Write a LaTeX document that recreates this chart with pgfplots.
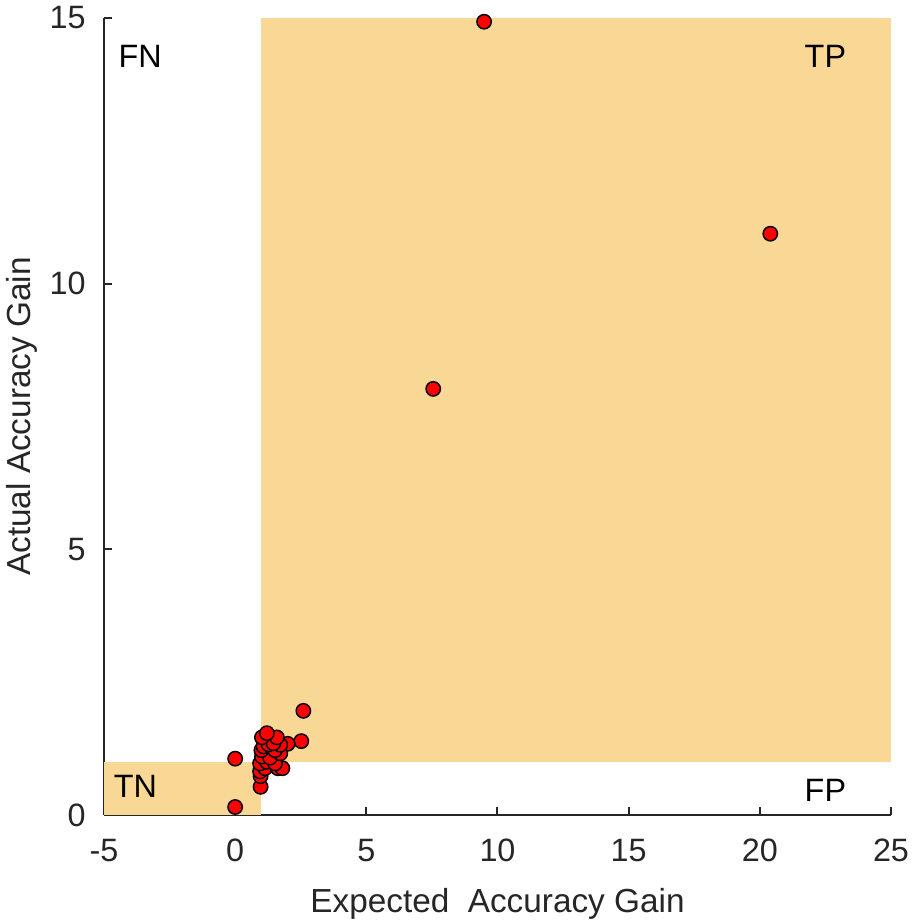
\documentclass[border=0pt]{standalone}
\usepackage{pgfplots}
\pgfplotsset{compat=1.18}
\usepackage{fontspec}
\setmainfont{Liberation Sans}
\definecolor{regionc}{RGB}{249,216,150}
\definecolor{axc}{RGB}{38,38,38}
\begin{document}
\begin{tikzpicture}[x=1pt,y=1pt]
\begin{axis}[
  scale only axis,
  width=236.1pt, height=239.1pt,
  xmin=-5, xmax=25, ymin=0, ymax=15,
  xtick={-5,0,5,10,15,20,25},
  ytick={0,5,10,15},
  axis x line=bottom, axis y line=left,
  axis line style={-, axc, line width=0.6pt},
  tick style={axc, line width=0.6pt},
  tick align=inside,
  major tick length=2.4pt,
  /pgf/number format/assume math mode=true,
  ticklabel style={font=\fontsize{9.7}{11}\selectfont, text=axc},
  xticklabel style={yshift=-3.6pt},
  yticklabel style={xshift=-2pt},
  xlabel={Expected\ \ Accuracy Gain},
  ylabel={Actual Accuracy Gain},
  label style={font=\fontsize{10}{12}\selectfont, text=axc},
  xlabel style={yshift=-1pt},
  ylabel style={yshift=-3.2pt},
  clip=false,
]
\addplot[fill=regionc, draw=none, forget plot] coordinates {(-5,0) (1,0) (1,1) (-5,1)} -- cycle;
\addplot[fill=regionc, draw=none, forget plot] coordinates {(1,1) (25,1) (25,15) (1,15)} -- cycle;
\addplot[only marks, mark=*, mark size=2.15pt, mark options={fill=red, draw=black, line width=0.45pt}]
 table {
x y
0 1.06
0 0.15
2.6 1.96
2.52 1.39
2.0 1.34
7.55 8.02
9.49 14.93
20.4 10.94
0.97 0.53
0.97 0.73
0.95 0.82
1.14 0.88
1.63 0.88
1.80 0.88
0.95 0.97
1.21 1.00
1.52 0.97
1.02 1.10
1.33 1.08
1.72 1.16
1.00 1.22
1.52 1.22
1.08 1.29
1.72 1.32
1.27 1.33
1.46 1.35
1.02 1.46
1.59 1.46
1.21 1.54
};
\node[font=\fontsize{9.7}{11}\selectfont, text=black] at (axis cs:-3.62,14.27) {FN};
\node[font=\fontsize{9.7}{11}\selectfont, text=black] at (axis cs:22.5,14.27) {TP};
\node[font=\fontsize{9.7}{11}\selectfont, text=black] at (axis cs:-3.8,0.53) {TN};
\node[font=\fontsize{9.7}{11}\selectfont, text=black] at (axis cs:22.5,0.47) {FP};
\coordinate (SW) at (rel axis cs:0,0);
\coordinate (NE) at (rel axis cs:1,1);
\end{axis}
\pgfresetboundingbox
\path[use as bounding box] ([shift={(-31.2pt,-31.5pt)}]SW) rectangle ([shift={(7.5pt,5.4pt)}]NE);
\end{tikzpicture}
\end{document}
